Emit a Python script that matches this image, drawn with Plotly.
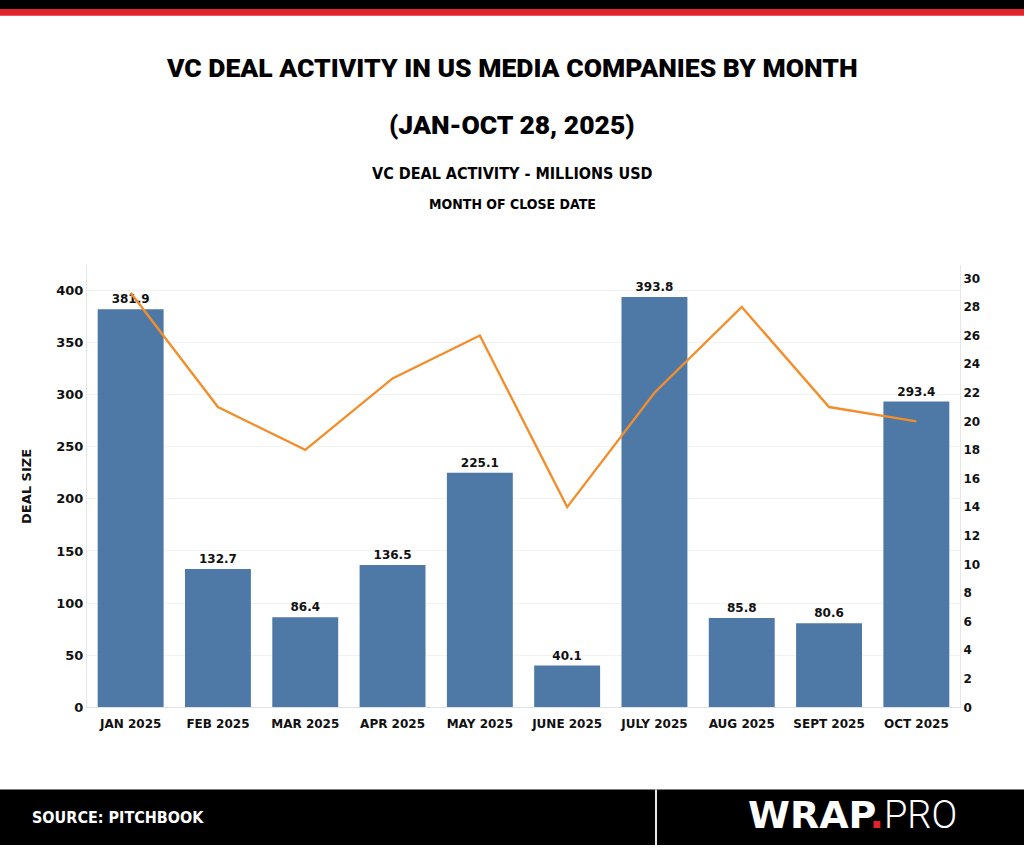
import plotly.graph_objects as go

months = ["JAN 2025", "FEB 2025", "MAR 2025", "APR 2025", "MAY 2025",
          "JUNE 2025", "JULY 2025", "AUG 2025", "SEPT 2025", "OCT 2025"]
deal_size = [381.9, 132.7, 86.4, 136.5, 225.1, 40.1, 393.8, 85.8, 80.6, 293.4]
deal_count = [29, 21, 18, 23, 26, 14, 22, 28, 21, 20]
left_ticks = [0, 50, 100, 150, 200, 250, 300, 350, 400]
right_ticks = list(range(0, 31, 2))

W, H = 1024, 853
COND = "DejaVu Sans Condensed, sans-serif"
TITLEF = "Roboto, sans-serif"
TICKF = "DejaVu Sans, sans-serif"

fig = go.Figure()
fig.add_trace(go.Bar(
    x=months, y=deal_size, marker=dict(color="#4E79A7", line=dict(width=0)),
    text=[f"{v:.1f}" for v in deal_size], textposition="outside",
    textfont=dict(family=TICKF, size=12, color="#111111", weight="bold"),
    cliponaxis=False, yaxis="y", showlegend=False, hoverinfo="skip"))
fig.add_trace(go.Scatter(
    x=months, y=deal_count, mode="lines",
    line=dict(color="#F28E2B", width=2.4), yaxis="y2", showlegend=False,
    hoverinfo="skip"))

fig.update_layout(
    width=W, height=H, margin=dict(l=0, r=0, t=0, b=0),
    paper_bgcolor="white", plot_bgcolor="white",
    bargap=0.245,
    xaxis=dict(domain=[87 / W, 960 / W], showgrid=False, showline=True,
               linecolor="#dde1e8", linewidth=1, ticks="", fixedrange=True,
               ticklabelstandoff=5,
               tickfont=dict(family=TICKF, size=12, color="#111111", weight="bold")),
    yaxis=dict(range=[0, 424], tickvals=left_ticks, showgrid=True,
               gridcolor="#f2f2f2", gridwidth=1, zeroline=False,
               showline=True, linecolor="#e6e6e6", linewidth=1, ticks="",
               tickfont=dict(family=TICKF, size=13, color="#111111", weight="bold"),
               title=dict(text="DEAL SIZE", standoff=21,
                          font=dict(family=TICKF, size=13, color="#111111", weight="bold"))),
    yaxis2=dict(range=[0, 30.9], tickvals=right_ticks, overlaying="y",
                side="right", showgrid=False, zeroline=False, showline=True,
                linecolor="#e6e6e6", linewidth=1, ticks="",
                tickfont=dict(family=TICKF, size=12, color="#111111", weight="bold")),
)
fig.update_yaxes(domain=[139 / H, 585 / H])
fig.layout.yaxis2.anchor = "x"

shapes = [
    dict(type="rect", xref="paper", yref="paper", x0=0, x1=1, y0=1 - 9 / H, y1=1,
         fillcolor="#000000", line=dict(width=0), layer="above"),
    dict(type="rect", xref="paper", yref="paper", x0=0, x1=1, y0=1 - 16 / H, y1=1 - 9 / H,
         fillcolor="#E0242B", line=dict(width=0), layer="above"),
    dict(type="rect", xref="paper", yref="paper", x0=0, x1=1, y0=0, y1=1 - 797 / H,
         fillcolor="#000000", line=dict(width=0), layer="above"),
    dict(type="line", xref="paper", yref="paper", x0=656 / W, x1=656 / W,
         y0=0, y1=1 - 797 / H, line=dict(color="#e8e8e8", width=2), layer="above"),
]
fig.update_layout(shapes=shapes)

def ann(text, x, y, size, family=COND, color="#000000", weight="bold",
        xanchor="center", yanchor="middle"):
    fig.add_annotation(text=text, x=x / W, y=1 - y / H, xref="paper", yref="paper",
                       showarrow=False, xanchor=xanchor, yanchor=yanchor,
                       font=dict(family=family, size=size, color=color, weight=weight))

ann("VC DEAL ACTIVITY IN US MEDIA COMPANIES BY MONTH", 512, 68, 26.5, family=TITLEF, weight=900)
ann("(JAN-OCT 28, 2025)", 512, 126, 26.5, family=TITLEF, weight=900)
ann("VC DEAL ACTIVITY - MILLIONS USD", 512, 175, 16)
ann("MONTH OF CLOSE DATE", 512, 206, 14)
ann("SOURCE: PITCHBOOK", 30, 825, 16, color="#ffffff", xanchor="left")
ann("WRAP<span style='color:#E0242B'>.</span>"
    "<span style='font-family:Roboto;font-weight:300'>PRO</span>",
    746, 823, 38, family=TICKF, color="#ffffff", weight="bold", xanchor="left")

fig.write_html(
    "out.html",
    config={"displayModeBar": False, "staticPlot": True},
    post_script=("document.documentElement.style.margin='0';"
                 "document.body.style.margin='0';"
                 "var d=document.getElementById('{plot_id}');"
                 "d.style.position='fixed';d.style.top='0';d.style.left='0';"))
